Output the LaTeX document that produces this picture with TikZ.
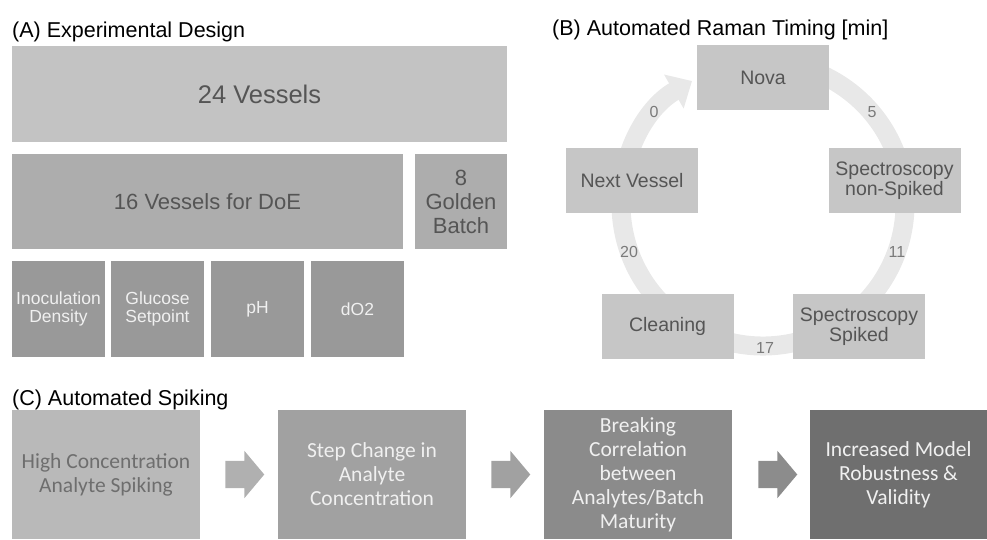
\documentclass[tikz,border=0pt]{standalone}
\usepackage{fontspec}
\setmainfont{Liberation Sans}
\newfontfamily\calfont{Carlito}
\usetikzlibrary{arrows.meta}
\usetikzlibrary{shapes.arrows}

\definecolor{grayA}{HTML}{C3C3C3}
\definecolor{grayB}{HTML}{ADADAD}
\definecolor{grayC}{HTML}{999999}
\definecolor{grayR}{HTML}{C6C6C6}
\definecolor{ringgray}{HTML}{E8E8E8}
\definecolor{txtdark}{HTML}{555555}
\definecolor{txtlight}{HTML}{F0F0F0}
\definecolor{stepA}{HTML}{B9B9B9}
\definecolor{stepB}{HTML}{A1A1A1}
\definecolor{stepC}{HTML}{8B8B8B}
\definecolor{stepD}{HTML}{6F6F6F}

\begin{document}
\begin{tikzpicture}[x=1pt,y=1pt,
    blk/.style={rectangle,inner sep=0pt,align=center},
    heading/.style={anchor=base west,inner sep=0pt,font=\fontsize{21.5}{24}\selectfont},
    cyclebox/.style={blk,fill=grayR,text=txtdark,minimum width=132pt,minimum height=65pt,
        font=\fontsize{19.5}{20}\selectfont},
    tick/.style={inner sep=0pt,text=black!52,font=\fontsize{16}{18}\selectfont},
    stepbox/.style={blk,minimum height=129pt,font=\calfont\fontsize{21.5}{24}\selectfont},
    blockarrow/.style={single arrow,draw=none,inner sep=0pt,text height=13.5pt,text depth=13.5pt,
        minimum height=39pt,single arrow head extend=10pt,single arrow tip angle=100}]

            \useasboundingbox (0,0) rectangle (987,-539);

            % (A) experimental design
            \path   (12,-37) node (ta) [heading] {(A) Experimental Design}
                    (259.5,-94) node (v24) [blk,fill=grayA,text=txtdark,minimum width=495pt,minimum height=96pt,font=\fontsize{25.5}{28}\selectfont] {24 Vessels}
                    (207.5,-201.5) node (doe) [blk,fill=grayB,text=txtdark,minimum width=391pt,minimum height=95pt,font=\fontsize{22}{24}\selectfont] {16 Vessels for DoE}
                    (461,-201.5) node (gold) [blk,fill=grayB,text=txtdark,minimum width=92pt,minimum height=95pt,font=\fontsize{22}{24}\selectfont] {8\\Golden\\Batch}
                    (58.5,-309) node (inoc) [blk,fill=grayC,text=txtlight,minimum width=93pt,minimum height=96pt,font=\fontsize{17.5}{18}\selectfont] {Inoculation\\Density}
                    (157.5,-309) node (gluc) [blk,fill=grayC,text=txtlight,minimum width=93pt,minimum height=96pt,font=\fontsize{17.5}{18}\selectfont] {Glucose\\Setpoint}
                    (257.5,-309) node (ph) [blk,fill=grayC,text=txtlight,minimum width=93pt,minimum height=96pt,font=\fontsize{17.5}{18}\selectfont] {pH}
                    (357.5,-309) node (do2) [blk,fill=grayC,text=txtlight,minimum width=93pt,minimum height=96pt,font=\fontsize{17.5}{18}\selectfont] {dO2};

            % (B) raman cycle
            \coordinate (ctr) at (763,-204);
            \draw[line width=19pt,ringgray,-{Triangle[length=21pt,width=38pt]}]
                    (ctr) ++(100:142) arc[start angle=100,end angle=-240,radius=142];

            \path   (552,-35) node (tb) [heading] {(B) Automated Raman Timing [min]}
                    (763,-77.5) node (nova) [cyclebox] {Nova}
                    (894.5,-180.5) node (nspk) [cyclebox] {Spectroscopy\\non-Spiked}
                    (859,-326.5) node (spk) [cyclebox] {Spectroscopy\\Spiked}
                    (667.5,-326.5) node (clean) [cyclebox] {Cleaning}
                    (632,-180.5) node (next) [cyclebox] {Next Vessel}
                    (654,-112) node (t0) [tick] {0}
                    (872,-112) node (t5) [tick] {5}
                    (897,-252) node (t11) [tick] {11}
                    (765,-348) node (t17) [tick] {17}
                    (629,-252) node (t20) [tick] {20};

            % (C) spiking chain
            \path   (12,-405) node (tc) [heading] {(C) Automated Spiking}
                    (106,-474.5) node (c1) [stepbox,fill=stepA,text=black!57,minimum width=188pt] {High Concentration\\Analyte Spiking}
                    (372,-474.5) node (c2) [stepbox,fill=stepB,text=txtlight,minimum width=188pt] {Step Change in\\Analyte\\Concentration}
                    (638,-474.5) node (c3) [stepbox,fill=stepC,text=txtlight,minimum width=188pt] {Breaking\\Correlation\\between\\Analytes/Batch\\Maturity}
                    (898.5,-474.5) node (c4) [stepbox,fill=stepD,text=txtlight,minimum width=177pt] {Increased Model\\Robustness \&\\Validity};

            \path (c1) -- node (a1) [blockarrow,fill=black!31] {} (c2);
            \path (c2) -- node (a2) [blockarrow,fill=black!37] {} (c3);
            \path (c3) -- node (a3) [blockarrow,fill=black!45,pos=0.513] {} (c4);

        \end{tikzpicture}
\end{document}
